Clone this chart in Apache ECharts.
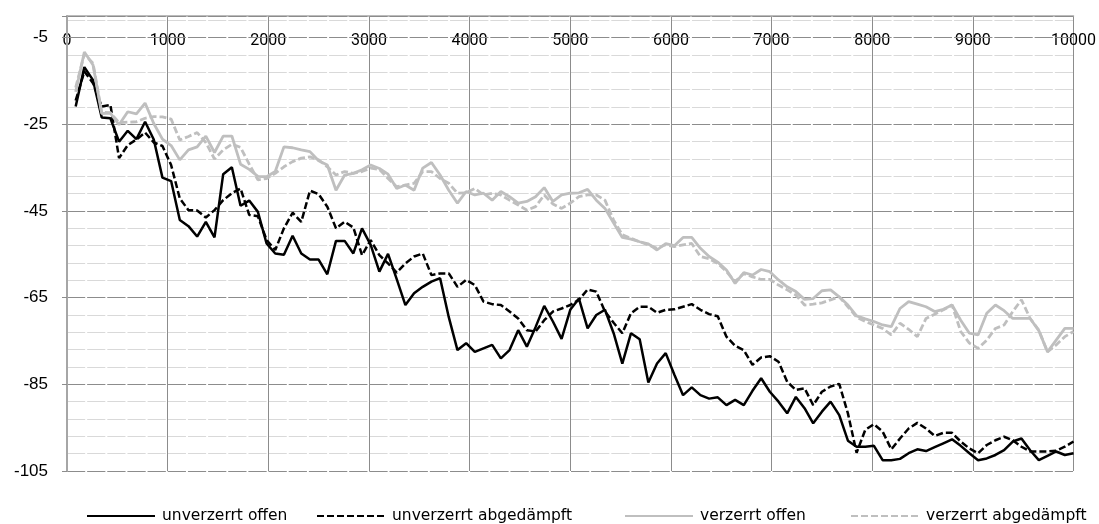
<!DOCTYPE html>
<html>
<head>
<meta charset="utf-8">
<script src="https://cdn.jsdelivr.net/npm/echarts@6/dist/echarts.min.js"></script>
<style>
  html, body { margin: 0; padding: 0; background: #fff; }
  #chart { width: 1099px; height: 524px; }
</style>
</head>
<body>
<div id="chart"></div>
<script>
  const seriesNames = ["unverzerrt offen", "unverzerrt abgedämpft", "verzerrt offen", "verzerrt abgedämpft"];
  const xMax = 10000;
  const pointCount = 116;
  const xTicks = [0, 1000, 2000, 3000, 4000, 5000, 6000, 7000, 8000, 9000, 10000];
  const yTicks = [-105, -85, -65, -45, -25, -5];

  const unverzerrtOffen = [
    -20.9, -11.8, -14.8, -23.4, -23.6, -29.0, -26.5, -28.4, -24.4, -28.5,
    -37.3, -38.1, -47.1, -48.5, -50.9, -47.5, -51.1, -36.5, -34.9, -43.8,
    -42.6, -45.2, -52.5, -54.8, -55.1, -50.7, -54.8, -56.2, -56.2, -59.6,
    -51.9, -51.9, -54.8, -49.0, -52.8, -59.0, -54.9, -60.7, -66.7, -64.0,
    -62.5, -61.3, -60.5, -69.5, -77.1, -75.5, -77.5, -76.7, -75.9, -79.0,
    -77.1, -72.5, -76.3, -71.8, -66.9, -70.5, -74.5, -67.8, -65.2, -72.1,
    -69.0, -67.8, -73.2, -80.2, -73.2, -74.6, -84.6, -80.2, -77.8, -82.8,
    -87.5, -85.7, -87.5, -88.3, -88.0, -89.8, -88.6, -89.8, -86.5, -83.6,
    -86.7, -89.0, -91.7, -87.9, -90.5, -94.0, -91.3, -89.0, -92.1, -98.0,
    -99.4, -99.4, -99.2, -102.5, -102.5, -102.2, -100.9, -100.0, -100.4, -99.5,
    -98.6, -97.7, -99.2, -100.9, -102.5, -102.1, -101.3, -100.2, -98.2, -97.5,
    -100.2, -102.5, -101.5, -100.5, -101.3, -100.9
  ];
  const unverzerrtAbgedaempft = [
    -19.5, -12.8, -15.5, -20.9, -20.5, -32.8, -29.8, -28.5, -26.9, -29.2,
    -30.0, -34.4, -42.1, -44.8, -44.9, -46.5, -44.8, -42.5, -40.9, -39.8,
    -45.9, -46.2, -51.7, -54.0, -49.0, -45.4, -47.5, -40.3, -41.1, -44.0,
    -49.0, -47.5, -48.8, -55.2, -51.7, -55.2, -57.1, -59.2, -57.1, -55.5,
    -54.8, -59.8, -59.4, -59.4, -62.5, -60.9, -62.1, -65.9, -66.5, -66.7,
    -68.2, -69.8, -72.5, -72.8, -70.2, -68.2, -67.5, -66.7, -65.5, -63.1,
    -63.6, -68.2, -70.8, -73.2, -68.6, -67.1, -67.1, -68.5, -67.8, -67.7,
    -67.1, -66.5, -67.8, -68.8, -69.3, -74.0, -76.1, -77.1, -80.5, -78.8,
    -78.5, -79.8, -84.4, -86.3, -85.9, -89.8, -86.7, -85.5, -84.9, -91.7,
    -100.8, -95.5, -94.2, -95.9, -100.0, -97.5, -95.2, -93.9, -95.2, -96.9,
    -96.2, -96.2, -98.2, -99.8, -100.9, -99.0, -97.9, -97.1, -97.9, -99.4,
    -100.5, -100.5, -100.5, -100.3, -99.4, -98.2
  ];
  const verzerrtOffen = [
    -17.5, -8.3, -11.3, -22.5, -22.4, -25.1, -22.1, -22.6, -20.1, -24.8,
    -28.4, -29.9, -33.2, -30.9, -30.2, -27.7, -31.5, -27.7, -27.7, -34.2,
    -35.4, -37.0, -37.1, -35.9, -30.2, -30.4, -30.9, -31.3, -33.4, -34.4,
    -40.2, -36.7, -36.3, -35.5, -34.4, -35.2, -36.5, -39.8, -39.0, -40.2,
    -35.1, -33.8, -36.7, -40.2, -43.2, -40.5, -41.3, -40.9, -42.5, -40.5,
    -41.7, -43.2, -42.8, -41.7, -39.6, -42.8, -41.3, -40.9, -40.8, -40.0,
    -42.5, -44.4, -47.8, -51.1, -51.5, -52.1, -52.6, -54.0, -52.5, -53.0,
    -51.1, -51.1, -53.6, -55.5, -56.8, -58.6, -61.7, -59.2, -59.8, -58.5,
    -59.0, -60.9, -62.5, -63.6, -65.4, -65.2, -63.4, -63.2, -64.8, -66.7,
    -69.2, -69.9, -70.5, -71.3, -71.7, -67.5, -65.9, -66.5, -67.1, -68.2,
    -67.7, -66.7, -70.2, -73.2, -73.6, -68.6, -66.7, -68.0, -69.8, -69.8,
    -69.8, -72.6, -77.5, -74.8, -72.1, -72.1
  ];
  const verzerrtAbgedaempft = [
    -16.5, -8.8, -10.9, -22.2, -22.3, -24.6, -24.5, -24.4, -23.6, -23.2,
    -23.3, -23.8, -28.6, -27.8, -26.9, -29.2, -33.0, -30.9, -29.6, -30.3,
    -34.2, -37.8, -37.5, -36.3, -34.8, -33.6, -32.8, -32.5, -33.2, -34.8,
    -36.7, -35.9, -36.3, -35.9, -35.1, -35.4, -37.5, -39.4, -39.0, -38.6,
    -35.9, -35.9, -37.5, -38.6, -40.9, -40.8, -39.8, -41.3, -40.9, -41.3,
    -42.5, -43.6, -44.8, -44.0, -41.3, -43.4, -44.4, -43.2, -41.7, -41.3,
    -41.3, -42.5, -47.1, -50.5, -51.3, -52.1, -52.8, -53.6, -52.8, -53.2,
    -52.8, -52.5, -55.5, -56.0, -57.1, -59.0, -61.3, -59.4, -60.2, -60.8,
    -60.8, -62.1, -63.2, -64.4, -66.7, -66.5, -66.2, -65.5, -64.8, -67.1,
    -69.5, -70.5, -71.3, -72.1, -73.6, -70.9, -72.3, -74.0, -69.8, -68.8,
    -67.8, -66.7, -72.8, -75.5, -76.7, -74.8, -72.1, -71.3, -68.2, -65.5,
    -69.8, -72.5, -77.5, -75.9, -74.0, -72.8
  ];

  const xStep = xMax / pointCount;
  function toPairs(values) {
    return values.map((value, i) => [(i + 1) * xStep, value]);
  }

  const chart = echarts.init(document.getElementById("chart"));
  const gridDash = [18.16, 2];
  const styles = [
    { color: "#000000", type: "solid", width: 2.5 },
    { color: "#000000", type: [7, 3], width: 2.5 },
    { color: "#bfbfbf", type: "solid", width: 2.8 },
    { color: "#bfbfbf", type: [7, 3], width: 2.8 }
  ];
  const legendLeft = [86, 316, 624, 850];
  const allValues = [unverzerrtOffen, unverzerrtAbgedaempft, verzerrtOffen, verzerrtAbgedaempft];

  chart.setOption({
    animation: false,
    backgroundColor: "#ffffff",
    grid: { left: 67, right: 24, top: 16, bottom: 53 },
    legend: seriesNames.map((name, i) => ({
      data: [name],
      left: legendLeft[i],
      top: 508,
      padding: 0,
      itemWidth: 68,
      itemHeight: 16,
      itemStyle: { opacity: 0 },
      textStyle: { fontFamily: "DejaVu Sans", fontSize: 15.5, color: "#000", padding: [0, 0, 0, 2] }
    })),
    xAxis: {
      type: "value",
      position: "top",
      min: xTicks[0],
      max: xTicks[xTicks.length - 1],
      interval: 1000,
      axisLine: { show: true, lineStyle: { color: "#a6a6a6", width: 1.5 } },
      axisTick: { show: false },
      axisLabel: {
        inside: true,
        margin: 17,
        fontFamily: "Roboto",
        fontSize: 16,
        color: "#000",
        formatter: (v) => xTicks.includes(v) ? String(v) : ""
      },
      splitLine: { show: true, lineStyle: { color: "#8c8c8c", width: 1 } }
    },
    yAxis: [
      {
        type: "value",
        position: "left",
        min: -105,
        max: 0,
        interval: 4,
        axisLine: { show: false },
        axisTick: { show: false },
        axisLabel: { show: false },
        splitLine: { show: true, lineStyle: { color: "#d9d9d9", width: 1, type: gridDash } }
      },
      {
        type: "value",
        position: "left",
        min: -105,
        max: 0,
        interval: 20,
        z: 1,
        axisLine: { show: true, lineStyle: { color: "#a6a6a6", width: 2 } },
        axisTick: { show: true, length: 5, lineStyle: { color: "#8c8c8c" } },
        axisLabel: {
          margin: 19,
          fontFamily: "Liberation Sans",
          fontSize: 17,
          color: "#000",
          formatter: (v) => yTicks.includes(v) ? String(v) : ""
        },
        splitLine: { show: true, lineStyle: { color: "#8c8c8c", width: 1, type: gridDash } }
      }
    ],
    series: allValues.map((values, i) => ({
      name: seriesNames[i],
      type: "line",
      yAxisIndex: 1,
      data: toPairs(values),
      showSymbol: false,
      symbol: "none",
      lineStyle: styles[i],
      itemStyle: { color: styles[i].color }
    }))
  });
</script>
</body>
</html>
